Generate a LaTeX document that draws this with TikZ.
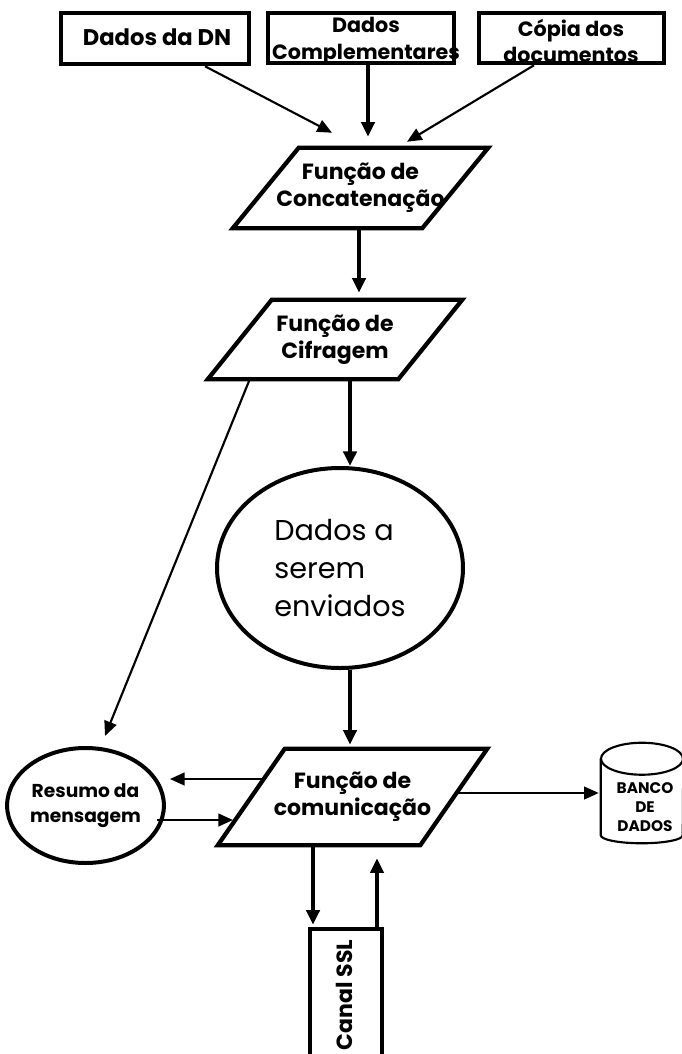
\documentclass[tikz,border=0pt]{standalone}
\usepackage{fontspec}
\setmainfont{Poppins}
\usetikzlibrary{arrows.meta,shapes.geometric,calc}
% outline of a slanted (parallelogram) process box around a node
\newcommand\paraoutline[2]{%
  \draw[pbox] ([xshift=#2]#1.north west) -- ([xshift=#2]#1.north east)
    -- ([xshift=-#2]#1.south east) -- ([xshift=-#2]#1.south west) -- cycle;}
\begin{document}
\begin{tikzpicture}[x=0.75pt,y=-0.75pt,
  rbox/.style={draw, line width=3.4pt, inner sep=0pt},
  pnode/.style={inner sep=0pt, align=center, font=\bfseries\fontsize{16.5}{20.5}\selectfont},
  pbox/.style={line width=3.2pt, line join=miter},
  lbl/.style={inner sep=0pt, align=center, font=\bfseries\fontsize{15.5}{20}\selectfont},
  arrv/.style={-{Triangle[length=11pt,width=10pt]}, line width=2.6pt},
  arrt/.style={-{Triangle[length=11pt,width=9.5pt]}, line width=1.6pt},
  cyl/.style={line width=1.6pt},
]
\fill[white] (0,0) rectangle (682,1054);
\useasboundingbox (0,0) rectangle (682,1054);

% input boxes
\node[rbox, minimum width=141pt, minimum height=38.25pt] (dn) at (155,38.5) {};
\node[rbox, minimum width=139.5pt, minimum height=37.5pt] (cmp) at (361,38) {};
\node[rbox, minimum width=138.75pt, minimum height=37.5pt] (cop) at (571.5,38) {};
\node[lbl, font=\bfseries\fontsize{17}{20}\selectfont] (dnt) at (157,37) {Dados da DN};
\node[lbl] (cmpt) at (366,41) {Dados\\Complementares};
\node[lbl] (copt) at (571,41) {Cópia dos\\documentos};

% processing steps
\node[pnode, minimum width=141.75pt, minimum height=60pt] (conc) at (360.5,188) {Função de\\Concatenação};
\paraoutline{conc}{24.75pt}
\node[pnode, minimum width=142.5pt, minimum height=59.25pt] (cif) at (335,339.5) {Função de\\Cifragem};
\paraoutline{cif}{24pt}
\node[draw, ellipse, line width=3pt, inner sep=0pt, minimum width=184.5pt, minimum height=150pt,
      align=left, font=\fontsize{21.5}{28.5}\selectfont] (dados) at (340,568) {Dados a\\serem\\enviados};
\node[pnode, minimum width=151.5pt, minimum height=72pt] (com) at (352.5,797) {Função de\\comunicação};
\paraoutline{com}{25.125pt}

% message digest
\node[draw, ellipse, line width=3pt, inner sep=0pt, minimum width=110.25pt, minimum height=86.25pt,
      align=center, font=\bfseries\fontsize{14}{19}\selectfont] (res) at (85.5,805.5) {Resumo da\\mensagem};

% database cylinder
\node[inner sep=0pt, minimum width=61.5pt, minimum height=57pt] (bd) at (642,797) {};
\draw[cyl] (bd.north west) -- (bd.south west)
  arc[start angle=180, end angle=360, x radius=30.75pt, y radius=6pt] -- (bd.north east);
\draw[cyl] (bd.north) ellipse [x radius=30.75pt, y radius=12pt];
\node[inner sep=0pt, align=center, font=\bfseries\fontsize{11.5}{14.25}\selectfont] (bdt) at (645,807) {BANCO\\DE\\DADOS};

% secure channel
\node[rbox, minimum width=54pt, minimum height=120pt] (ssl) at (346,1009) {};
\node[lbl, rotate=90, font=\bfseries\fontsize{16.5}{18}\selectfont] (sslt) at (344,995) {Canal SSL};

% connectors
\draw[arrt] ($(dn.south)+(50,0)$) -- ($(conc.north)+(-28.5,-15)$);
\draw[arrv] ($(cmp.south)+(7,0)$) -- ($(conc.north)+(7.5,-11)$);
\draw[arrt] ($(cop.south)+(-37.5,0)$) -- ($(conc.north)+(46.5,-6)$);
\draw[arrv] ($(conc.south)+(-1.5,0)$) -- ($(cif.north)+(24,-7)$);
\draw[arrv] ($(cif.south)+(15,0)$) -- ($(dados.north)+(10,0)$);
\draw[arrt] ($(cif.south west)+(10,0)$) -- ($(res.north)+(19.5,-10)$);
\draw[arrv] ($(dados.south)+(10,0)$) -- ($(com.north)+(-2.5,-4)$);
\draw[arrt] ($(com.center)+(-88.5,-18)$) -- ($(res.east)+(4,-26.5)$);
\draw[arrt] ($(res.center)+(71.5,14.5)$) -- ($(com.center)+(-119.5,23)$);
\draw[arrt] ($(com.center)+(104,-4)$) -- ($(bd.west)+(-2,-4)$);
\draw[arrv] ($(com.south)+(-39.5,0)$) -- ($(ssl.north)+(-33,-2)$);
\draw[arrv] ($(ssl.north)+(31,0)$) -- ($(com.south)+(24.5,13)$);
\end{tikzpicture}
\end{document}
